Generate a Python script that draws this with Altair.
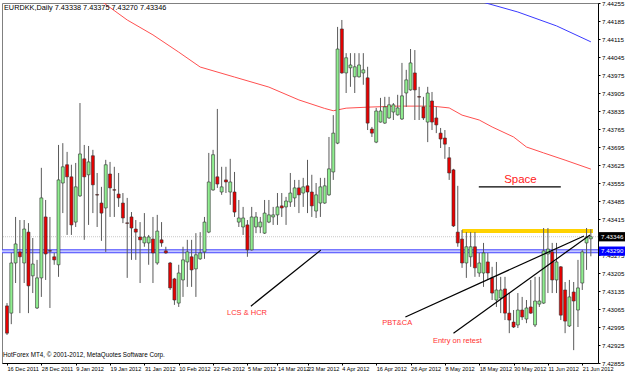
import altair as alt
import pandas as pd

# ---------------- data ----------------
opens = [7.43077, 7.43049, 7.43244, 7.43287, 7.43244, 7.43364, 7.43194, 7.43069, 7.43186, 7.43423,
         7.43292, 7.43268, 7.43237, 7.43555, 7.43626, 7.43579, 7.43403, 7.43505, 7.43649, 7.43587,
         7.43661, 7.43510, 7.43477, 7.43458, 7.43590, 7.43529, 7.43512, 7.43477, 7.43400, 7.43423,
         7.43376, 7.43345, 7.43322, 7.43322, 7.43337, 7.43244, 7.43334, 7.43291, 7.43244, 7.43182,
         7.43088, 7.43178, 7.43248, 7.43268, 7.43221, 7.43260, 7.43287, 7.43364, 7.43528, 7.43579,
         7.43520, 7.43567, 7.43520, 7.43520, 7.43403, 7.43384, 7.43392, 7.43295, 7.43384, 7.43384,
         7.43360, 7.43403, 7.43423, 7.43431, 7.43466, 7.43462, 7.43481, 7.43497, 7.43536, 7.43516,
         7.43544, 7.43520, 7.43446, 7.43477, 7.43477, 7.43509, 7.43598, 7.43710, 7.44154, 7.43983,
         7.44003, 7.43968, 7.43968, 7.43983, 7.43964, 7.43765, 7.43714, 7.43792, 7.43788, 7.43808,
         7.43831, 7.43820, 7.43804, 7.43905, 7.43917, 7.43983, 7.43891, 7.43851, 7.43792, 7.43874,
         7.43808, 7.43749, 7.43730, 7.43653, 7.43606, 7.43364, 7.43337, 7.43244, 7.43268, 7.43307,
         7.43205, 7.43205, 7.43248, 7.43186, 7.43100, 7.43108, 7.43143, 7.43049, 7.43014, 7.43003,
         7.43061, 7.43026, 7.43073, 7.43003, 7.43084, 7.43088, 7.43279, 7.43287, 7.43178, 7.43229,
         7.43139, 7.42999, 7.43131, 7.43061, 7.43166, 7.43322, 7.43338]
highs = [7.43088, 7.43283, 7.43423, 7.43411, 7.43411, 7.43399, 7.43341, 7.43256, 7.43614, 7.43489,
         7.43423, 7.43283, 7.43703, 7.43710, 7.43676, 7.43626, 7.43633, 7.43866, 7.43703, 7.43699,
         7.43684, 7.43594, 7.43540, 7.43645, 7.43637, 7.43618, 7.43594, 7.43516, 7.43497, 7.43442,
         7.43411, 7.43403, 7.43438, 7.43353, 7.43423, 7.43431, 7.43403, 7.43307, 7.43248, 7.43186,
         7.43237, 7.43307, 7.43334, 7.43334, 7.43360, 7.43364, 7.43423, 7.43672, 7.43684, 7.43843,
         7.43618, 7.43618, 7.43649, 7.43598, 7.43489, 7.43462, 7.43411, 7.43462, 7.43442, 7.43423,
         7.43489, 7.43489, 7.43462, 7.43516, 7.43516, 7.43501, 7.43594, 7.43567, 7.43567, 7.43575,
         7.43645, 7.43587, 7.43555, 7.43575, 7.43575, 7.43734, 7.43819, 7.44162, 7.44189, 7.44060,
         7.44060, 7.44060, 7.44060, 7.44060, 7.44007, 7.43773, 7.43847, 7.43886, 7.43890, 7.43890,
         7.43866, 7.43898, 7.44022, 7.43995, 7.44076, 7.44072, 7.43929, 7.43890, 7.43929, 7.43909,
         7.43851, 7.43769, 7.43761, 7.43695, 7.43610, 7.43544, 7.43372, 7.43364, 7.43364, 7.43364,
         7.43283, 7.43322, 7.43283, 7.43229, 7.43248, 7.43190, 7.43190, 7.43127, 7.43061, 7.43127,
         7.43112, 7.43100, 7.43178, 7.43190, 7.43190, 7.43380, 7.43380, 7.43322, 7.43322, 7.43232,
         7.43170, 7.43178, 7.43170, 7.43256, 7.43295, 7.43380, 7.43375]
lows = [7.42964, 7.43006, 7.43166, 7.43049, 7.43166, 7.43049, 7.43127, 7.43065, 7.43112, 7.43178,
        7.43069, 7.43237, 7.43190, 7.43438, 7.43353, 7.43353, 7.43384, 7.43501, 7.43334, 7.43392,
        7.43438, 7.43384, 7.43330, 7.43287, 7.43423, 7.43423, 7.43462, 7.43399, 7.43186, 7.43256,
        7.43256, 7.43166, 7.43307, 7.43237, 7.43166, 7.43237, 7.43307, 7.43280, 7.43139, 7.43081,
        7.43073, 7.43112, 7.43151, 7.43151, 7.43112, 7.43256, 7.43260, 7.43360, 7.43525, 7.43536,
        7.43509, 7.43516, 7.43470, 7.43423, 7.43384, 7.43353, 7.43268, 7.43292, 7.43360, 7.43360,
        7.43357, 7.43399, 7.43392, 7.43392, 7.43423, 7.43392, 7.43462, 7.43462, 7.43438, 7.43462,
        7.43438, 7.43423, 7.43419, 7.43423, 7.43474, 7.43505, 7.43567, 7.43706, 7.43980, 7.43905,
        7.43929, 7.43905, 7.43965, 7.43937, 7.43761, 7.43734, 7.43710, 7.43790, 7.43785, 7.43805,
        7.43800, 7.43817, 7.43800, 7.43851, 7.43914, 7.43800, 7.43800, 7.43800, 7.43714, 7.43761,
        7.43749, 7.43691, 7.43649, 7.43567, 7.43384, 7.43307, 7.43225, 7.43186, 7.43229, 7.43190,
        7.43190, 7.43151, 7.43178, 7.43100, 7.43073, 7.43049, 7.43022, 7.42971, 7.42991, 7.42991,
        7.43022, 7.43010, 7.43046, 7.42995, 7.43073, 7.43085, 7.43127, 7.43127, 7.43127, 7.43022,
        7.42971, 7.42995, 7.42905, 7.42995, 7.43139, 7.43217, 7.43270]
closes = [7.42971, 7.43244, 7.43318, 7.43268, 7.43376, 7.43155, 7.43240, 7.43186, 7.43497, 7.43279,
          7.43290, 7.43256, 7.43567, 7.43618, 7.43579, 7.43392, 7.43540, 7.43668, 7.43579, 7.43637,
          7.43548, 7.43508, 7.43438, 7.43626, 7.43536, 7.43527, 7.43497, 7.43419, 7.43398, 7.43380,
          7.43364, 7.43334, 7.43345, 7.43345, 7.43283, 7.43368, 7.43322, 7.43283, 7.43147, 7.43100,
          7.43205, 7.43256, 7.43287, 7.43217, 7.43276, 7.43283, 7.43403, 7.43559, 7.43665, 7.43551,
          7.43540, 7.43559, 7.43559, 7.43442, 7.43419, 7.43419, 7.43295, 7.43423, 7.43423, 7.43403,
          7.43438, 7.43431, 7.43431, 7.43462, 7.43458, 7.43485, 7.43516, 7.43536, 7.43509, 7.43540,
          7.43520, 7.43466, 7.43509, 7.43540, 7.43544, 7.43610, 7.43749, 7.44076, 7.43983, 7.44042,
          7.44014, 7.44007, 7.44014, 7.43995, 7.43788, 7.43749, 7.43835, 7.43835, 7.43851, 7.43859,
          7.43859, 7.43847, 7.43894, 7.43956, 7.44022, 7.43917, 7.43889, 7.43808, 7.43905, 7.43792,
          7.43781, 7.43726, 7.43706, 7.43594, 7.43388, 7.43322, 7.43244, 7.43307, 7.43307, 7.43225,
          7.43244, 7.43283, 7.43205, 7.43127, 7.43139, 7.43139, 7.43049, 7.43022, 7.42995, 7.43061,
          7.43034, 7.43069, 7.43049, 7.43096, 7.43096, 7.43291, 7.43298, 7.43178, 7.43248, 7.43041,
          7.43018, 7.43112, 7.43096, 7.43147, 7.43287, 7.43345, 7.43346]

red_ma_bars = [20, 28, 34, 40, 45, 53, 61, 68, 74, 76, 79, 84, 91, 99, 103, 106, 110, 113, 118, 121, 125, 130, 136]
red_ma_vals = [7.44286, 7.44189, 7.44131, 7.44064, 7.44006, 7.43967, 7.43928, 7.43878, 7.43845, 7.43836,
               7.43846, 7.43850, 7.43854, 7.43854, 7.43847, 7.43819, 7.43800, 7.43773, 7.43734, 7.43695,
               7.43672, 7.43644, 7.43609]
blue_ma_bars = [100, 109, 119, 128, 136]
blue_ma_vals = [7.44314, 7.44267, 7.44220, 7.44166, 7.44104]

date_labels = ["16 Dec 2011", "28 Dec 2011", "9 Jan 2012", "19 Jan 2012", "31 Jan 2012", "10 Feb 2012",
               "22 Feb 2012", "5 Mar 2012", "14 Mar 2012", "23 Mar 2012", "4 Apr 2012", "16 Apr 2012",
               "26 Apr 2012", "8 May 2012", "18 May 2012", "30 May 2012", "11 Jun 2012", "21 Jun 2012"]
date_label_bars = [0, 8, 16, 24, 32, 40, 48, 56, 63, 70, 78, 86, 94, 102, 110, 118, 126, 134]
price_ticks = [7.44255, 7.44185, 7.44115, 7.44045, 7.43975, 7.43905, 7.43835, 7.43765, 7.43695,
               7.43625, 7.43555, 7.43485, 7.43415, 7.43275, 7.43205, 7.43135, 7.43065, 7.42995,
               7.42925, 7.42855]

bid_price = 7.43346
blue_level = 7.43290
yellow_level = 7.43368
yellow_bars = [106, 136.5]

trend_x1 = [56.8, 92.8, 104.0, 109.9]
trend_y1 = [7.43076, 7.43034, 7.42971, 7.43540]
trend_x2 = [73.1, 134.4, 135.8, 129.0]
trend_y2 = [7.43294, 7.43349, 7.43353, 7.43540]

note_texts = ["LCS & HCR", "PBT&CA", "Entry on retest"]
note_bars = [55.9, 90.9, 104.9]
note_prices = [7.43049, 7.43011, 7.42941]
space_text = ["Space"]
space_bar = [119.6]
space_price = [7.43567]

header = "EURDKK,Daily  7.43338 7.43375 7.43270 7.43346"
footer = "HotForex MT4, \u00a9 2001-2012, MetaQuotes Software Corp."

# ---------------- tables ----------------
df = pd.DataFrame({"bar": list(range(len(opens))), "open": opens, "high": highs,
                   "low": lows, "close": closes})
df["dir"] = ["up" if c >= o else "down" for o, c in zip(opens, closes)]

red_df = pd.DataFrame({"bar": red_ma_bars, "v": red_ma_vals})
blue_df = pd.DataFrame({"bar": blue_ma_bars, "v": blue_ma_vals})
trend_df = pd.DataFrame({"x1": trend_x1, "y1": trend_y1, "x2": trend_x2, "y2": trend_y2})
notes_df = pd.DataFrame({"bar": note_bars, "p": note_prices, "t": note_texts})
space_df = pd.DataFrame({"bar": space_bar, "p": space_price, "t": space_text})
yellow_df = pd.DataFrame({"x1": [yellow_bars[0]], "x2": [yellow_bars[1]], "p": [yellow_level]})
levels_df = pd.DataFrame({"p": [bid_price]})
blue_lvl_df = pd.DataFrame({"p": [blue_level]})
boxes_df = pd.DataFrame({"p": [bid_price, blue_level], "fill": ["#000000", "#0000ff"]})
header_df = pd.DataFrame({"t": [header]})
footer_df = pd.DataFrame({"t": [footer]})

# ---------------- scales & axes ----------------
FONT = "Liberation Sans"
xs = alt.Scale(domain=[0, 136.5], nice=False, zero=False)
ys = alt.Scale(domain=[7.42855, 7.44255], nice=False, zero=False)

label_expr = ("[" + ",".join("'" + d + "'" for d in date_labels) + "][indexof(["
              + ",".join(str(b) for b in date_label_bars) + "], datum.value)]")
xaxis = alt.Axis(values=date_label_bars, labelExpr=label_expr, title=None, orient="bottom",
                 grid=False, labelAlign="left", labelFontSize=5.6, labelFont=FONT,
                 labelColor="black", tickSize=2, tickColor="black", labelPadding=1,
                 domainColor="black", labelOverlap=False, labelBound=False, labelFlush=False)
yaxis = alt.Axis(values=price_ticks, format=".5f", orient="right", title=None, grid=False,
                 labelFontSize=6.2, labelFont=FONT, labelColor="black", tickSize=2,
                 tickColor="black", labelPadding=1.5, domainColor="black",
                 labelOverlap=False, labelBound=False, labelFlush=False)


def X(f):
    return alt.X(f, type="quantitative", scale=xs, axis=xaxis)


def Y(f):
    return alt.Y(f, type="quantitative", scale=ys, axis=yaxis)


# ---------------- layers ----------------
bid_line = alt.Chart(levels_df).mark_rule(color="#c8c8c8", strokeDash=[1, 1], strokeWidth=1).encode(y=Y("p"))
blue_outer = alt.Chart(blue_lvl_df).mark_rule(color="#4a4aff", strokeWidth=4).encode(y=Y("p"))
blue_inner = alt.Chart(blue_lvl_df).mark_rule(color="#c4c8ff", strokeWidth=2).encode(y=Y("p"))
yellow = alt.Chart(yellow_df).mark_rule(color="#ffd200", strokeWidth=4, clip=True).encode(
    x=X("x1"), x2="x2", y=Y("p"))
red_ma = alt.Chart(red_df).mark_line(color="#ff5050", strokeWidth=1, clip=True).encode(x=X("bar"), y=Y("v"))
blue_ma = alt.Chart(blue_df).mark_line(color="#3a3aff", strokeWidth=1, clip=True).encode(x=X("bar"), y=Y("v"))

wicks = alt.Chart(df).mark_rule(color="#5a5a5a", strokeWidth=1, clip=True).encode(
    x=X("bar"), y=Y("low"), y2="high")
bodies = alt.Chart(df).mark_bar(width=3, stroke="#303030", strokeWidth=0.6, clip=True).encode(
    x=X("bar"), y=Y("open"), y2="close",
    color=alt.Color("dir:N", scale=alt.Scale(domain=["up", "down"], range=["#90ee90", "#e80000"]),
                    legend=None))

trends = alt.Chart(trend_df).mark_rule(color="black", strokeWidth=1.2).encode(
    x=X("x1"), y=Y("y1"), x2="x2", y2="y2")

notes = alt.Chart(notes_df).mark_text(color="#ff3030", fontSize=7.5, font=FONT).encode(
    x=X("bar"), y=Y("p"), text="t:N")
space = alt.Chart(space_df).mark_text(color="#ff2020", fontSize=11.5, font=FONT).encode(
    x=X("bar"), y=Y("p"), text="t:N")

boxes = alt.Chart(boxes_df).transform_calculate(
    top="datum.p + 0.00018", bot="datum.p - 0.00018"
).mark_rect().encode(
    x=alt.value(597), x2=alt.value(623), y=Y("top"), y2="bot",
    color=alt.Color("fill:N", scale=None))
box_text = alt.Chart(boxes_df).mark_text(color="white", fontSize=6.2, font=FONT, align="left",
                                         baseline="middle").encode(
    x=alt.value(599), y=Y("p"), text=alt.Text("p:Q", format=".5f"))

head = alt.Chart(header_df).mark_text(align="left", baseline="top", fontSize=7.3, font=FONT,
                                      color="black").encode(
    x=alt.value(2), y=alt.value(1), text="t:N")
foot = alt.Chart(footer_df).mark_text(align="left", baseline="middle", fontSize=6.3, font=FONT,
                                      color="black").encode(
    x=alt.value(1), y=alt.value(352), text="t:N")

chart = alt.layer(
    bid_line, blue_outer, blue_inner, yellow, red_ma, blue_ma, wicks, bodies,
    trends, notes, space, boxes, box_text, head, foot
).properties(
    width=596, height=360,
    padding={"left": 2, "top": 3, "right": 27, "bottom": 12},
    autosize=alt.AutoSizeParams(type="none"),
    background="white",
).configure_view(stroke="#808080", strokeWidth=1)

chart.save("out.html", embed_options={"renderer": "svg", "actions": False})
